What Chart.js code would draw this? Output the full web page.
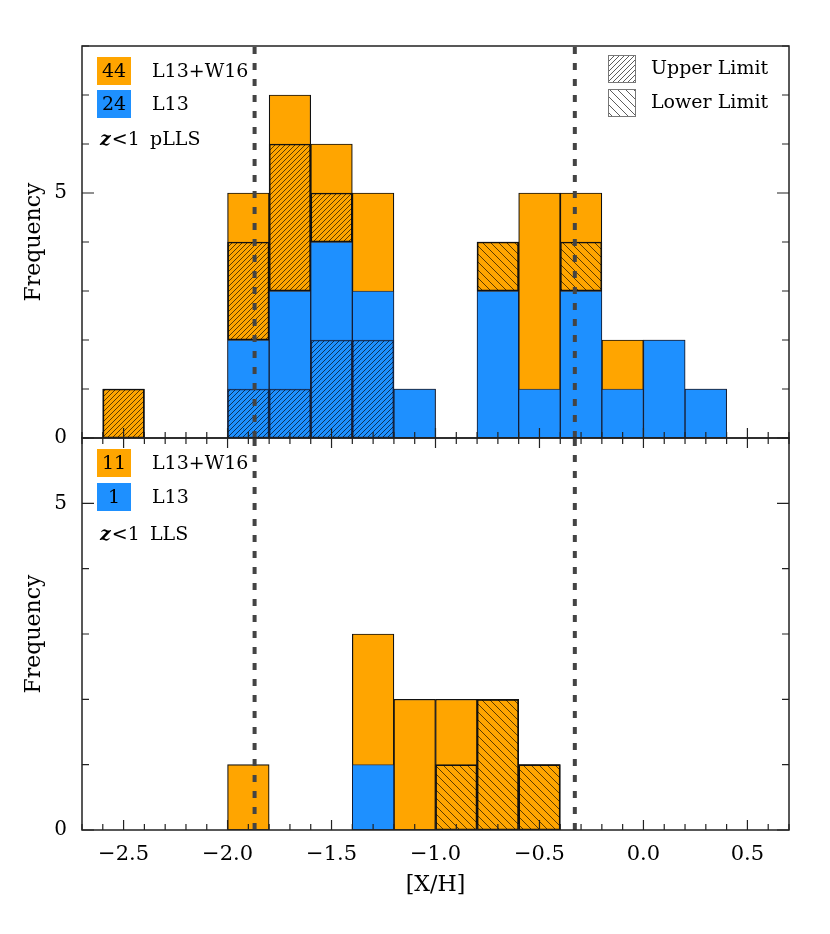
<!DOCTYPE html>
<html>
<head>
<meta charset="utf-8">
<script src="https://cdn.jsdelivr.net/npm/chart.js@4.4.0/dist/chart.umd.min.js"></script>
<style>
  html, body { margin: 0; padding: 0; background: #fff; }
  #wrap { position: relative; width: 830px; height: 934px; }
  #topChart { position: absolute; left: 0; top: 0; }
  #botChart { position: absolute; left: 0; top: 418px; }
</style>
</head>
<body>
<div id="wrap">
  <canvas id="topChart" width="830" height="462" style="width:830px;height:462px"></canvas>
  <canvas id="botChart" width="830" height="516" style="width:830px;height:516px"></canvas>
</div>
<script>
// bin centres of the 0.2-dex wide histogram bins
const binCenters = [-2.5, -2.3, -2.1, -1.9, -1.7, -1.5, -1.3, -1.1, -0.9, -0.7, -0.5, -0.3, -0.1, 0.1, 0.3];

// z<1 pLLS (top panel)
const pllsTotal    = [1, 0, 0, 5, 7, 6, 5, 1, 0, 4, 5, 5, 2, 2, 1];
const pllsL13      = [0, 0, 0, 2, 3, 4, 3, 1, 0, 3, 1, 3, 1, 2, 1];
const pllsL13Upper = [0, 0, 0, 1, 1, 2, 2, 0, 0, 0, 0, 0, 0, 0, 0];
const pllsW16Upper = [1, 0, 0, 2, 3, 1, 0, 0, 0, 0, 0, 0, 0, 0, 0];
const pllsW16Lower = [0, 0, 0, 0, 0, 0, 0, 0, 0, 1, 0, 1, 0, 0, 0];

// z<1 LLS (bottom panel)
const llsTotal    = [0, 0, 0, 1, 0, 0, 3, 2, 2, 2, 1, 0, 0, 0, 0];
const llsL13      = [0, 0, 0, 0, 0, 0, 1, 0, 0, 0, 0, 0, 0, 0, 0];
const llsL13Upper = [0, 0, 0, 0, 0, 0, 0, 0, 0, 0, 0, 0, 0, 0, 0];
const llsW16Upper = [0, 0, 0, 0, 0, 0, 0, 0, 0, 0, 0, 0, 0, 0, 0];
const llsW16Lower = [0, 0, 0, 0, 0, 0, 0, 0, 1, 2, 1, 0, 0, 0, 0];

// vertical dashed reference lines
const refLines = [-1.87, -0.33];

const ORANGE = '#FFA500';
const BLUE = '#1E90FF';
const FONT = 'DejaVu Serif';

function hatch(dir, gap) {
  const c = document.createElement('canvas');
  c.width = gap; c.height = gap;
  const g = c.getContext('2d');
  g.strokeStyle = 'rgba(0,0,0,0.8)';
  g.lineWidth = 0.8;
  g.beginPath();
  if (dir === 'up') {
    g.moveTo(-1, gap + 1); g.lineTo(gap + 1, -1);
    g.moveTo(-1, 1); g.lineTo(1, -1);
    g.moveTo(gap - 1, gap + 1); g.lineTo(gap + 1, gap - 1);
  } else {
    g.moveTo(-1, -1); g.lineTo(gap + 1, gap + 1);
    g.moveTo(gap - 1, -1); g.lineTo(gap + 1, 1);
    g.moveTo(-1, gap - 1); g.lineTo(1, gap + 1);
  }
  g.stroke();
  return g.createPattern(c, 'repeat');
}
const upPattern = hatch('up', 5);
const downPattern = hatch('down', 8);

function seg(lo, hi) {
  return binCenters
    .map((c, i) => ({ x: c, y: [lo[i], hi[i]] }))
    .filter(p => p.y[1] > p.y[0]);
}

function barSet(data, bg, border, bw, order) {
  return {
    type: 'bar', data, backgroundColor: bg, borderColor: border, borderWidth: bw,
    borderSkipped: false, grouped: false, barPercentage: 1, categoryPercentage: 1, order
  };
}

function panelDatasets(total, l13, l13Up, w16Up, w16Low, ymax) {
  const zero = total.map(() => 0);
  const upTop = l13.map((b, i) => b + w16Up[i]);
  const lowTop = upTop.map((b, i) => b + w16Low[i]);
  const sets = [
    barSet(seg(zero, total), ORANGE, '#111', 1.2, 6),
    barSet(seg(l13, upTop), upPattern, '#111', 1, 5),
    barSet(seg(upTop, lowTop), downPattern, '#111', 1, 5),
    barSet(seg(zero, l13), BLUE, 'rgba(20,30,60,0.8)', 1, 4),
    barSet(seg(zero, l13Up), upPattern, 'rgba(20,30,60,0.8)', 1, 3)
  ];
  refLines.forEach(v => sets.push({
    type: 'line', data: [{ x: v, y: 0 }, { x: v, y: ymax }],
    borderColor: '#444', borderWidth: 4, borderDash: [7, 9], pointRadius: 0, order: 1
  }));
  return sets;
}

// frame, inward ticks and the in-panel keys
const framePlugin = {
  id: 'frame',
  afterDraw(chart, args, o) {
    const { ctx, chartArea: a, scales: { x, y } } = chart;
    ctx.save();
    ctx.strokeStyle = '#222';
    ctx.lineWidth = 1.5;
    ctx.strokeRect(a.left, a.top, a.right - a.left, a.bottom - a.top);
    ctx.lineWidth = 1.2;
    ctx.beginPath();
    for (let t = -27; t <= 7; t++) {
      const px = x.getPixelForValue(t / 10);
      const len = t % 5 === 0 ? 10 : 6;
      ctx.moveTo(px, a.bottom); ctx.lineTo(px, a.bottom - len);
      if (o.topTicks) { ctx.moveTo(px, a.top); ctx.lineTo(px, a.top + len); }
    }
    for (let v = 0; v <= y.max; v++) {
      const py = y.getPixelForValue(v);
      const len = v % 5 === 0 ? 12 : 7;
      ctx.moveTo(a.left, py); ctx.lineTo(a.left + len, py);
      ctx.moveTo(a.right, py); ctx.lineTo(a.right - len, py);
    }
    ctx.stroke();

    ctx.textBaseline = 'middle';
    o.boxes.forEach(b => {
      ctx.fillStyle = b.color;
      ctx.fillRect(97, b.y, 34, 28);
      ctx.fillStyle = '#000';
      ctx.font = `19px ${FONT}`;
      ctx.textAlign = 'center';
      ctx.fillText(b.n, 114, b.y + 15);
      ctx.textAlign = 'left';
      ctx.fillText(b.label, 152, b.y + 15);
    });
    ctx.font = `italic bold 19px ${FONT}`;
    ctx.fillText('z', 100, o.tagY);
    const zw = ctx.measureText('z').width;
    ctx.font = `19px ${FONT}`;
    ctx.fillText('<1', 101 + zw, o.tagY);
    ctx.fillText(o.tag, 150, o.tagY);

    if (o.limitKey) {
      [['Upper Limit', upPattern, 55], ['Lower Limit', downPattern, 89]].forEach(([t, p, yy]) => {
        ctx.fillStyle = p;
        ctx.fillRect(608, yy, 28, 28);
        ctx.strokeStyle = '#777';
        ctx.lineWidth = 1;
        ctx.strokeRect(608.5, yy + 0.5, 27, 27);
        ctx.fillStyle = '#000';
        ctx.fillText(t, 651, yy + 14);
      });
    }
    ctx.restore();
  }
};

function yAxis(ymax) {
  return {
    min: 0, max: ymax, stacked: false,
    grid: { display: false }, border: { display: false },
    ticks: {
      stepSize: 1, padding: 7, color: '#000', font: { family: FONT, size: 20 },
      callback: v => (v === 0 || v === 5) ? String(v) : ''
    },
    title: { display: true, text: 'Frequency', color: '#000', font: { family: FONT, size: 22 }, padding: { top: 21, bottom: 0 } },
    afterFit: s => { s.width = 82; }
  };
}

function xTicks(scale) {
  scale.ticks = [-2.5, -2.0, -1.5, -1.0, -0.5, 0, 0.5].map(v => ({ value: v }));
}

const xLabel = v => {
  if (Math.abs(v) < 1e-9) return '0.0';
  return (v < 0 ? '\u2212' : '') + Math.abs(v).toFixed(1);
};

new Chart(document.getElementById('topChart'), {
  type: 'bar',
  data: { datasets: panelDatasets(pllsTotal, pllsL13, pllsL13Upper, pllsW16Upper, pllsW16Lower, 8) },
  options: {
    responsive: false,
    animation: false,
    layout: { padding: { left: 0, top: 46, right: 41, bottom: 24 } },
    plugins: {
      legend: { display: false },
      tooltip: { enabled: false },
      frame: {
        topTicks: false, limitKey: true, tag: 'pLLS', tagY: 140,
        boxes: [
          { n: '44', color: ORANGE, label: 'L13+W16', y: 57 },
          { n: '24', color: BLUE, label: 'L13', y: 90 }
        ]
      }
    },
    scales: {
      x: {
        type: 'linear', min: -2.7, max: 0.7, offset: false,
        grid: { display: false, drawTicks: false }, border: { display: false },
        ticks: { display: false, includeBounds: false },
        afterBuildTicks: xTicks,
        afterFit: s => { s.height = 0; }
      },
      y: yAxis(8)
    }
  },
  plugins: [framePlugin]
});

new Chart(document.getElementById('botChart'), {
  type: 'bar',
  data: { datasets: panelDatasets(llsTotal, llsL13, llsL13Upper, llsW16Upper, llsW16Lower, 6) },
  options: {
    responsive: false,
    animation: false,
    layout: { padding: { left: 0, top: 20, right: 41, bottom: 0 } },
    plugins: {
      legend: { display: false },
      tooltip: { enabled: false },
      frame: {
        topTicks: true, limitKey: false, tag: 'LLS', tagY: 117,
        boxes: [
          { n: '11', color: ORANGE, label: 'L13+W16', y: 31 },
          { n: '1', color: BLUE, label: 'L13', y: 65 }
        ]
      }
    },
    scales: {
      x: {
        type: 'linear', min: -2.7, max: 0.7, offset: false,
        grid: { display: false, drawTicks: false }, border: { display: false },
        ticks: { includeBounds: false, padding: 12, color: '#000', font: { family: FONT, size: 21 }, callback: xLabel },
        afterBuildTicks: xTicks,
        title: { display: true, text: '[X/H]', color: '#000', font: { family: FONT, size: 22 }, padding: { top: 0, bottom: 36 } },
        afterFit: s => { s.height = 104; }
      },
      y: yAxis(6)
    }
  },
  plugins: [framePlugin]
});
</script>
</body>
</html>
